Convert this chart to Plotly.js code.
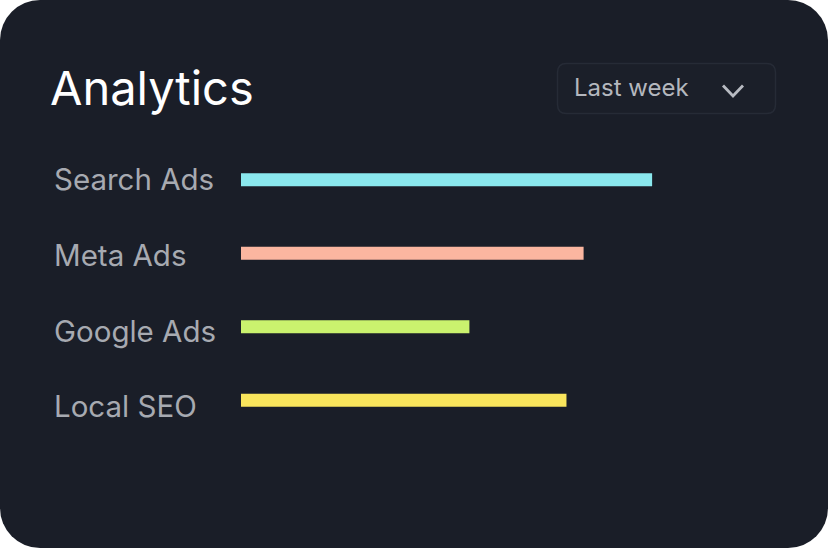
<!DOCTYPE html>
<html>
<head>
<meta charset="utf-8">
<script src="https://cdn.plot.ly/plotly-3.0.1.min.js"></script>
<style>
  html, body { margin: 0; padding: 0; background: #ffffff; }
  #chart { width: 828px; height: 548px; border-radius: 40px; overflow: hidden; }
</style>
</head>
<body>
<div id="chart"></div>
<script>
const categories = ["Search Ads", "Meta Ads", "Google Ads", "Local SEO"];
const values = [72, 60, 40, 57];
const barColors = ["#8ae8ee", "#fbb6a0", "#caf26e", "#f9e55c"];
const titleText = "Analytics";
const periodText = "Last week";

const W = 828, H = 548;
const L = 241, R = 16, T = 143, B = 111;
const pw = W - L - R, ph = H - T - B;
const px = x => (x - L) / pw;            // pixel -> paper x
const py = y => 1 - (y - T) / ph;        // pixel -> paper y

const trace = {
  type: "bar",
  orientation: "h",
  y: categories,
  x: values,
  marker: { color: barColors, line: { width: 0 } },
  hoverinfo: "skip"
};

const labelAnnotations = categories.map((c, i) => ({
  xref: "paper", yref: "y",
  x: px(52), y: c,
  xanchor: "left", yanchor: "middle",
  yshift: 1 - i * 2.4,
  text: c, showarrow: false,
  font: { family: "Inter, sans-serif", size: 29.5, color: "#a7aab1" }
}));

const layout = {
  width: W, height: H,
  margin: { l: L, r: R, t: T, b: B, pad: 0 },
  paper_bgcolor: "#1a1e28",
  plot_bgcolor: "rgba(0,0,0,0)",
  showlegend: false,
  bargap: 0.823,
  title: {
    text: titleText,
    x: 50 / W, xanchor: "left", xref: "container",
    y: 1 - 89 / H, yanchor: "middle", yref: "container",
    font: { family: "Inter, sans-serif", size: 47, color: "#ffffff" }
  },
  xaxis: { range: [0, 100], visible: false, fixedrange: true },
  yaxis: {
    type: "category", autorange: "reversed",
    showticklabels: false, showgrid: false, zeroline: false, showline: false,
    fixedrange: true
  },
  shapes: [
    {
      type: "path", xref: "paper", yref: "paper",
      path: (() => {
        const x0 = 557.5, x1 = 775.5, y0 = 63.5, y1 = 113.5, r = 9;
        const P = (x, y) => px(x) + "," + py(y);
        return "M" + P(x0 + r, y0) + " L" + P(x1 - r, y0) +
          " Q" + P(x1, y0) + " " + P(x1, y0 + r) +
          " L" + P(x1, y1 - r) + " Q" + P(x1, y1) + " " + P(x1 - r, y1) +
          " L" + P(x0 + r, y1) + " Q" + P(x0, y1) + " " + P(x0, y1 - r) +
          " L" + P(x0, y0 + r) + " Q" + P(x0, y0) + " " + P(x0 + r, y0) + " Z";
      })(),
      fillcolor: "#1b1f29",
      line: { color: "#262b36", width: 1.5 }
    },
    {
      type: "path", xref: "paper", yref: "paper",
      path: "M" + px(723) + "," + py(85.5) + " L" + px(733) + "," + py(96) + " L" + px(743) + "," + py(85.5),
      line: { color: "#b8bbc2", width: 2.8 }
    }
  ],
  annotations: labelAnnotations.concat([
    {
      xref: "paper", yref: "paper",
      x: px(572), y: py(87.5),
      xanchor: "left", yanchor: "middle",
      text: periodText, showarrow: false,
      font: { family: "Inter, sans-serif", size: 24, color: "#b4b7be" }
    }
  ])
};

Plotly.newPlot("chart", [trace], layout, { displayModeBar: false, staticPlot: true });
</script>
</body>
</html>
